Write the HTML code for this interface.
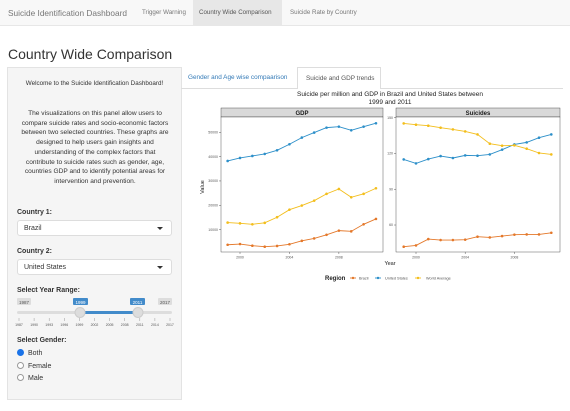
<!DOCTYPE html>
<html><head><meta charset="utf-8"><style>
body{margin:0;width:570px;height:411px;overflow:hidden;background:#fff;font-family:"Liberation Sans",sans-serif;color:#333;position:relative}
.abs{position:absolute}
.nav{left:0;top:0;width:570px;height:25px;background:#f8f8f8;border-bottom:1px solid #e7e7e7}
.nav span{position:absolute;top:9px;font-size:6.2px;color:#777;white-space:nowrap}
.side{left:7px;top:67px;width:175px;height:333px;background:#f5f5f5;border:1px solid #e3e3e3;box-sizing:border-box}
.lbl{font-size:7px;font-weight:bold;color:#333;position:absolute;left:17px}
.sel{position:absolute;left:17px;width:155px;height:16px;background:#fff;border:1px solid #ddd;border-radius:3px;box-sizing:border-box;font-size:7px;padding:4px 6px}
.sel:after{content:"";position:absolute;right:8px;top:6px;border:3px solid transparent;border-top:3px solid #333}
.rad{position:absolute;left:17px;font-size:7px}
.rad i{display:inline-block;width:5px;height:5px;border:1px solid #999;border-radius:50%;margin-right:4px;vertical-align:-1px;background:#fff}
</style></head><body>
<div class="abs nav">
<span style="left:8px;font-size:8.3px;top:8px">Suicide Identification Dashboard</span>
<span style="left:142px">Trigger Warning</span>
<div class="abs" style="left:193px;top:0;width:89px;height:25px;background:#e7e7e7"></div>
<span style="left:199px;color:#555">Country Wide Comparison</span>
<span style="left:290px">Suicide Rate by Country</span>
</div>
<div class="abs" style="left:8px;top:46px;font-size:14px;color:#333">Country Wide Comparison</div>
<div class="abs side"></div>
<div class="abs" style="left:7px;top:80px;width:175px;text-align:center;font-size:6.3px">Welcome to the Suicide Identification Dashboard!</div>
<div class="abs" style="left:20px;top:109px;width:150px;text-align:center;font-size:6.6px;line-height:9.7px">The visualizations on this panel allow users to compare suicide rates and socio-economic factors between two selected countries. These graphs are designed to help users gain insights and understanding of the complex factors that contribute to suicide rates such as gender, age, countries GDP and to identify potential areas for intervention and prevention.</div>
<div class="lbl" style="top:209px">Country 1:</div>
<div class="sel" style="top:220px">Brazil</div>
<div class="lbl" style="top:248px">Country 2:</div>
<div class="sel" style="top:259px">United States</div>
<div class="lbl" style="top:287px">Select Year Range:</div>
<svg class="abs" style="left:0;top:295px" width="182" height="35">
<rect x="17" y="3" width="14" height="7" fill="#ddd" rx="1"/><text x="24" y="9" font-size="4.5" text-anchor="middle" fill="#555">1987</text>
<rect x="158" y="3" width="14" height="7" fill="#ddd" rx="1"/><text x="165" y="9" font-size="4.5" text-anchor="middle" fill="#555">2017</text>
<rect x="73" y="3" width="15" height="7" fill="#428bca" rx="1"/><text x="80.5" y="9" font-size="4.5" text-anchor="middle" fill="#fff">1999</text>
<rect x="130" y="3" width="15" height="7" fill="#428bca" rx="1"/><text x="137.5" y="9" font-size="4.5" text-anchor="middle" fill="#fff">2011</text>
<rect x="17" y="16" width="155" height="3" fill="#ddd" rx="1.5"/>
<rect x="80" y="16" width="58" height="3" fill="#428bca"/>
<circle cx="80" cy="17.5" r="5" fill="#ddd" stroke="#ccc"/><circle cx="138" cy="17.5" r="5" fill="#ddd" stroke="#ccc"/>
<g id="ticks"></g>
</svg>
<div class="lbl" style="top:337px">Select Gender:</div>
<div class="rad" style="top:349px"><i style="background:#1a73e8;border-color:#1a73e8"></i>Both</div>
<div class="rad" style="top:362px"><i></i>Female</div>
<div class="rad" style="top:374px"><i></i>Male</div>
<div class="abs" style="left:181px;top:88px;width:382px;height:1px;background:#ddd"></div>
<div class="abs" style="left:188px;top:74px;font-size:6.4px;color:#337ab7;white-space:nowrap">Gender and Age wise compaarison</div>
<div class="abs" style="left:297px;top:67px;width:84px;height:22px;background:#fff;border:1px solid #ddd;border-bottom:none;box-sizing:border-box;font-size:6.4px;padding:7px 0 0 8px;color:#555;white-space:nowrap">Suicide and GDP trends</div>
<svg class="abs" style="left:0;top:0" width="570" height="411" id="chart"></svg>
<script>
const years=[1999,2000,2001,2002,2003,2004,2005,2006,2007,2008,2009,2010,2011];
const gdpBrazil=[3800,4100,3400,3000,3300,4000,5400,6400,7900,9600,9300,12200,14400];
const gdpUS=[38200,39450,40270,41100,42600,45070,47800,49860,51900,52300,50800,52300,53700];
const gdpWorld=[12900,12600,12200,12800,15100,18200,19900,21900,24700,26700,23300,24700,27000];
const sucBrazil=[41.8,42.9,48.2,47.4,47.4,47.7,50.2,49.6,50.7,51.9,52.1,52.1,53.5];
const sucUS=[115,111.7,115.3,117.8,116.2,118.4,118.1,119.2,123.2,127.6,129.3,133.2,136];
const sucWorld=[145.2,144.1,143.3,141.6,140.2,138.5,136,128.2,126.5,126.8,124,120.4,119.2];
const gdpTicks=[10000,20000,30000,40000,50000];
const sucTicks=[60,90,120,150];
const xTicks=[2000,2004,2008];
const sliderTicks=[1987,1990,1993,1996,1999,2002,2005,2008,2011,2014,2017];
const colors={Brazil:"#e4782a",US:"#2c8fc9",World:"#f3be1c"};
const NS="http://www.w3.org/2000/svg";
const svg=document.getElementById('chart');
function mk(tag,attrs,parent,txt){const e=document.createElementNS(NS,tag);for(const k in attrs)e.setAttribute(k,attrs[k]);if(txt!==undefined)e.textContent=txt;(parent||svg).appendChild(e);return e;}
const tg=document.getElementById('ticks');
sliderTicks.forEach((y,i)=>{const x=19+(y-1987)*(151/30);
 const l=mk('line',{x1:x,x2:x,y1:23,y2:26,stroke:'#999','stroke-width':0.5},tg);
 
 
 const t=mk('text',{x:x,y:31,'font-size':3.5,'text-anchor':'middle',fill:'#555'},tg,y);
 
 
});
mk('text',{x:390,y:96,'font-size':6.5,'text-anchor':'middle',fill:'#222'},svg,'Suicide per million and GDP in Brazil and United States between');
mk('text',{x:390,y:104,'font-size':6.5,'text-anchor':'middle',fill:'#222'},svg,'1999 and 2011');
function panel(name,x0,x1,yTop,yBot,xs,ys,ticks,series){
 mk('rect',{x:x0,y:108,width:x1-x0,height:9,fill:'#d9d9d9',stroke:'#333','stroke-width':0.4});
 const st=mk('text',{x:(x0+x1)/2,y:115,'font-size':6,'font-weight':'bold','text-anchor':'middle',fill:'#1a1a1a'},svg,name);
 
 
 mk('rect',{x:x0,y:117,width:x1-x0,height:135,fill:'#fff',stroke:'#333','stroke-width':0.4});
 ticks.forEach(v=>{const y=ys(v);mk('line',{x1:x0-2,x2:x0,y1:y,y2:y,stroke:'#333','stroke-width':0.4});
  const t=mk('text',{x:x0-3,y:y+1.2,'font-size':3.5,'text-anchor':'end',fill:'#555'},svg,v);
  
  });
 xTicks.forEach(v=>{const x=xs(v);mk('line',{x1:x,x2:x,y1:252,y2:254,stroke:'#333','stroke-width':0.4});
  const t=mk('text',{x:x,y:258.5,'font-size':3.5,'text-anchor':'middle',fill:'#555'},svg,v);
  
  });
 series.forEach(([key,vals])=>{
  const pts=vals.map((v,i)=>xs(years[i])+','+ys(v)).join(' ');
  const pl=mk('polyline',{points:pts,fill:'none',stroke:colors[key],'stroke-width':0.9});
  
  
  vals.forEach((v,i)=>{const c=mk('circle',{cx:xs(years[i]),cy:ys(v),r:1.3,fill:colors[key]});
   
   });
 });
}
const gx=y=>240+(y-2000)*12.36, gy=v=>254-v*0.002435;
const sx=y=>416+(y-2000)*12.3, sy=v=>117.7-(v-150)*(35.77/30);
panel('GDP',221,383,117,252,gx,gy,gdpTicks,[['Brazil',gdpBrazil],['US',gdpUS],['World',gdpWorld]]);
panel('Suicides',396,560,117,252,sx,sy,sucTicks,[['Brazil',sucBrazil],['US',sucUS],['World',sucWorld]]);
mk('text',{x:390,y:265,'font-size':5.5,'text-anchor':'middle',fill:'#222'},svg,'Year');
mk('text',{x:204,y:187,'font-size':5.5,'text-anchor':'middle',fill:'#222',transform:'rotate(-90 204 187)'},svg,'Value');
mk('text',{x:325,y:280,'font-size':6,'font-weight':'bold',fill:'#222'},svg,'Region');
[['Brazil','Brazil',350,359],['US','United States',375,385],['World','World Average',415,426]].forEach(([k,l,mx,tx])=>{
 mk('line',{x1:mx,x2:mx+6,y1:278,y2:278,stroke:colors[k],'stroke-width':0.9});
 mk('circle',{cx:mx+3,cy:278,r:1.2,fill:colors[k]});
 const t=mk('text',{x:tx,y:279.5,'font-size':3.8,fill:'#555'},svg,l);
 
 
});
</script>
</body></html>
